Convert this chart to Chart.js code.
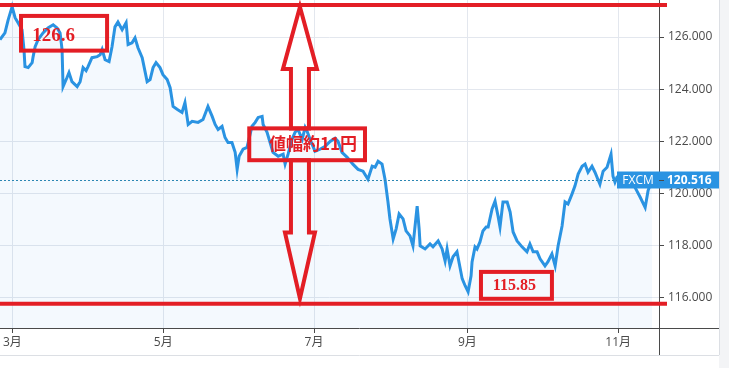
<!DOCTYPE html>
<html lang="ja">
<head>
<meta charset="UTF-8">
<title>FXCM 値幅</title>
<style>
    html, body { margin: 0; padding: 0; background: #fff; }
    #wrap { width: 729px; height: 368px; }
</style>
</head>
<body>
<div id="wrap"><canvas id="fxChart" width="729" height="368"></canvas></div>

<script src="https://cdn.jsdelivr.net/npm/chart.js"></script>
<script>
    // days since 1 Mar, and the rate on that day
    const days = [-5.0,-3.0,-1.7,-0.1,1.1,2.3,3.9,4.7,5.1,6.4,
        8.0,8.4,9.2,10.4,12.4,14.4,16.5,18.1,19.3,20.1,
        20.5,22.1,22.9,24.1,26.2,27.4,28.6,29.8,30.6,32.2,
        34.3,35.5,36.3,37.5,39.1,40.3,41.5,42.7,44.4,46.0,
        46.8,48.4,49.6,50.8,52.5,54.5,55.7,56.9,58.1,59.7,
        60.9,62.6,63.8,65.0,66.6,68.6,69.8,71.1,72.7,75.1,
        77.1,79.1,80.8,82.0,83.2,84.8,86.0,87.2,88.8,90.1,
        90.9,91.7,93.3,94.9,96.9,98.2,99.4,101.0,101.4,103.0,
        105.4,107.5,109.5,110.3,111.5,113.1,114.3,115.5,117.2,118.4,
        119.2,120.4,122.4,124.4,126.5,128.5,130.5,131.7,133.3,135.4,
        137.8,139.8,141.8,143.8,145.5,146.7,147.9,149.5,150.7,151.9,
        152.7,154.0,155.2,156.4,158.0,159.2,160.8,162.0,163.7,164.5,
        164.9,166.9,168.9,170.1,172.2,173.8,175.0,175.8,177.0,178.2,
        179.8,181.9,183.1,184.3,185.5,185.9,187.1,187.9,189.1,190.3,
        191.6,192.4,194.0,195.2,196.4,197.2,198.4,200.1,201.3,202.5,
        204.1,206.1,208.1,209.3,210.6,212.2,213.4,215.4,216.6,218.2,
        219.5,220.7,222.3,223.5,224.7,226.3,227.5,228.8,230.4,231.6,
        232.8,234.4,235.6,237.6,238.9,240.5,242.1,242.9,243.7,244.5,
        247.8,251.8,253.9,255.9,257.1,258.7];

    const rates = [125.90,126.16,126.66,127.16,126.74,126.55,126.28,125.52,124.87,124.83,
        125.02,125.25,125.63,125.90,126.16,126.35,126.47,126.35,126.16,125.52,
        124.10,124.45,124.64,124.29,124.10,124.29,124.83,124.71,124.87,125.21,
        125.25,125.32,125.52,125.13,125.06,125.63,126.39,126.58,126.28,126.55,
        125.71,125.78,125.97,125.59,125.21,124.29,124.37,124.83,125.02,124.83,
        124.56,124.37,124.06,123.34,123.23,123.11,123.49,122.65,122.77,122.73,
        122.84,123.34,122.96,122.65,122.46,122.58,122.15,121.96,121.96,121.58,
        120.93,121.43,121.70,121.77,122.58,122.73,122.92,122.96,122.65,122.35,
        121.58,121.43,121.51,121.13,121.51,122.08,122.35,122.46,122.08,122.54,
        122.39,122.08,121.62,121.70,121.81,122.00,122.12,122.00,121.58,121.39,
        121.12,120.93,120.86,120.55,121.05,121.01,121.24,121.13,120.55,119.68,
        119.03,118.26,118.65,119.22,119.03,118.57,118.38,118.00,119.52,118.65,
        118.00,117.88,118.07,117.96,118.19,117.88,117.42,117.88,117.23,117.58,
        117.77,116.74,116.47,116.24,116.85,117.38,117.96,117.88,118.15,118.57,
        118.72,118.72,119.41,119.71,119.14,118.72,119.68,119.68,119.29,118.53,
        118.19,117.96,117.77,118.07,117.77,117.77,117.50,117.23,117.39,117.69,
        117.23,118.00,118.76,119.68,119.60,119.98,120.29,120.75,121.05,121.13,
        120.82,121.05,120.82,120.36,120.86,121.01,121.51,120.67,120.44,120.63,
        120.55,120.24,119.86,119.47,120.12,120.52];

    const monthDays = [0, 61, 122, 184, 245];
    const monthLabels = ['3月', '5月', '7月', '9月', '11月'];
    const yTicks = [116, 118, 120, 122, 124, 126];

    const lastRate = 120.516;
    const sourceName = 'FXCM';

    // hand drawn marks: high / low levels, range note
    const highText = '126.6';
    const lowText = '115.85';
    const rangeText = '値幅約11円';
    const highLevel = 127.23;
    const lowLevel = 115.78;
    const arrowDay = 116.3;

    const RED = '#e31e25';
    const BLUE = '#2a93e2';

    const overlay = {
        id: 'overlay',
        beforeDraw(chart) {
            const c = chart.ctx;
            c.save();
            c.fillStyle = '#f3f4f6';
            c.fillRect(719, 0, 10, chart.height);
            c.fillStyle = '#fff';
            c.fillRect(0, 0, 719, chart.height);
            c.strokeStyle = '#dcdfe4';
            c.lineWidth = 1;
            c.beginPath();
            c.moveTo(719.5, 0); c.lineTo(719.5, 355);
            c.moveTo(0, 355.5); c.lineTo(719, 355.5);
            c.stroke();
            c.restore();
        },
        afterDatasetsDraw(chart) {
            const c = chart.ctx;
            const area = chart.chartArea;
            const xs = chart.scales.x, ys = chart.scales.y;
            const px = d => xs.getPixelForValue(d);
            const py = v => ys.getPixelForValue(v);
            c.save();

            // axis lines
            c.strokeStyle = '#4a4a4a';
            c.lineWidth = 1;
            c.beginPath();
            c.moveTo(area.left, area.bottom + 0.5); c.lineTo(719, area.bottom + 0.5);
            c.moveTo(area.right + 0.5, area.top); c.lineTo(area.right + 0.5, 355);
            c.stroke();

            // last price line
            const yl = Math.round(py(lastRate)) + 0.5;
            c.strokeStyle = '#2b86b3';
            c.setLineDash([2, 2]);
            c.beginPath();
            c.moveTo(area.left, yl); c.lineTo(area.right - 42, yl);
            c.stroke();
            c.setLineDash([]);

            c.fillStyle = BLUE;
            c.fillRect(area.right - 42, yl - 9, 42, 17);
            c.fillRect(area.right, yl - 9, 60, 17);
            c.strokeStyle = '#4a4a4a';
            c.beginPath();
            c.moveTo(area.right, yl); c.lineTo(area.right + 5, yl);
            c.stroke();
            c.fillStyle = '#fff';
            c.textBaseline = 'middle';
            c.textAlign = 'center';
            c.font = "12px 'Open Sans', sans-serif";
            c.fillText(sourceName, area.right - 21, yl);
            c.textAlign = 'left';
            c.font = "bold 12px 'Open Sans', sans-serif";
            c.fillText(lastRate.toFixed(3), area.right + 8, yl);

            // red level lines
            c.strokeStyle = RED;
            c.lineWidth = 4;
            c.beginPath();
            c.moveTo(area.left, py(highLevel)); c.lineTo(area.right + 8, py(highLevel));
            c.moveTo(area.left, py(lowLevel)); c.lineTo(area.right + 8, py(lowLevel));
            c.stroke();

            // boxes
            c.lineJoin = 'miter';
            const box = (d0, d1, v0, v1) => {
                c.strokeRect(px(d0), py(v0), px(d1) - px(d0), py(v1) - py(v0));
            };
            box(3.5, 38.3, 126.81, 125.48);
            box(95.8, 142.6, 122.50, 121.28);
            box(189.5, 218.2, 117.00, 115.97);

            // double arrow, outlined
            const cx = px(arrowDay);
            const topTip = py(highLevel) + 2;
            const boxTop = py(122.50), boxBot = py(121.28);
            const botTip = py(115.98);
            const arrow = (tip, dir, headLen, headHalf, end) => {
                const hb = tip + dir * headLen;
                c.beginPath();
                c.moveTo(cx, tip);
                c.lineTo(cx + headHalf, hb);
                c.lineTo(cx + 9, hb);
                c.lineTo(cx + 9, end);
                c.lineTo(cx - 9, end);
                c.lineTo(cx - 9, hb);
                c.lineTo(cx - headHalf, hb);
                c.closePath();
                c.stroke();
            };
            arrow(topTip, 1, 62, 17, boxTop);
            arrow(botTip, -1, 66, 15, boxBot);

            // texts
            c.fillStyle = RED;
            c.textBaseline = 'middle';
            c.textAlign = 'left';
            c.font = "bold 19px 'Liberation Serif', serif";
            c.fillText(highText, px(8.0), py(126.04));
            c.textAlign = 'center';
            c.font = "bold 17px 'Noto Sans CJK JP', sans-serif";
            c.fillText(rangeText, px(121.6), py(121.93));
            c.font = "bold 16px 'Liberation Serif', serif";
            c.fillText(lowText, px(203.0), py(116.48));
            c.restore();
        }
    };

    Chart.defaults.font.family = "'Open Sans', 'Noto Sans CJK JP', sans-serif";
    Chart.defaults.font.size = 12;
    Chart.defaults.color = '#4a4a4a';

    new Chart(document.getElementById('fxChart'), {
        type: 'line',
        data: {
            datasets: [{
                data: days.map((d, i) => ({ x: d, y: rates[i] })),
                borderColor: BLUE,
                borderWidth: 3,
                backgroundColor: 'rgba(42, 147, 226, 0.05)',
                fill: 'start',
                pointRadius: 0,
                tension: 0
            }]
        },
        options: {
            responsive: false,
            animation: false,
            layout: { padding: 0 },
            plugins: { legend: { display: false }, tooltip: { enabled: false } },
            scales: {
                x: {
                    type: 'linear',
                    min: -5,
                    max: 261.5,
                    afterFit(scale) {
                        scale.height = 40;
                        scale.paddingLeft = 0;
                        scale.paddingRight = 0;
                    },
                    afterBuildTicks(scale) { scale.ticks = monthDays.map(v => ({ value: v })); },
                    ticks: {
                        padding: 2,
                        maxRotation: 0,
                        callback: (v, i) => monthLabels[i]
                    },
                    grid: { color: '#e3e7ee', tickColor: '#4a4a4a', tickLength: 5 },
                    border: { display: false }
                },
                y: {
                    position: 'right',
                    min: 114.85,
                    max: 127.42,
                    afterFit(scale) {
                        scale.width = 70;
                        scale.paddingTop = 0;
                        scale.paddingBottom = 0;
                    },
                    afterBuildTicks(scale) { scale.ticks = yTicks.map(v => ({ value: v })); },
                    ticks: {
                        padding: 4,
                        callback: v => v.toFixed(3)
                    },
                    grid: { color: '#e3e7ee', tickColor: '#4a4a4a', tickLength: 5 },
                    border: { display: false }
                }
            }
        },
        plugins: [overlay]
    });
</script>
</body>
</html>
